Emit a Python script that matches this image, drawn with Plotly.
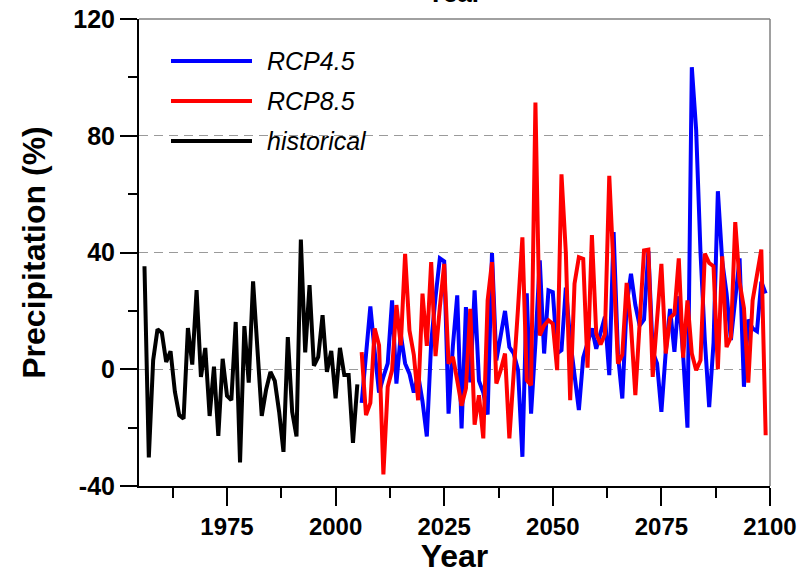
import plotly.graph_objects as go

# ---------------- data ----------------
hist_years = list(range(1956, 2006))
hist_vals = [35.3, -30.2, 3.1, 13.7, 12.5, 2.5, 6.2, -7.7, -15.7, -16.9,
             14.1, 1.6, 27.1, -2.6, 7.3, -16.0, 0.9, -22.8, 3.6, -9.1,
             -10.6, 16.2, -31.9, 14.8, -4.6, 30.1, 7.0, -16.0, -7.0, -0.9,
             -4.0, -14.6, -28.3, 11.0, -14.6, -23.0, 44.4, 5.8, 28.8, 1.2,
             4.2, 18.5, -0.9, 6.3, -10.0, 7.3, -2.0, -2.0, -25.2, -5.2]

rcp_years = list(range(2006, 2100))
rcp45_vals = [-11.5, 5.0, 21.5, 6.0, -8.0, -2.6, 2.0, 23.6, -4.9, 12.0,
              2.0, -1.5, -8.0, -2.0, -11.0, -23.0, 9.0, 24.7, 38.0, 37.0,
              -15.2, 8.0, 25.3, -20.3, 21.3, -4.5, 27.0, -4.0, -8.0, -15.5,
              39.8, 3.0, 11.0, 20.0, 7.6, 5.4, -0.3, -30.0, 26.0, -15.2,
              9.0, 37.3, 5.4, 27.0, 26.4, 5.4, 6.5,
              28.0, 10.0, -1.0, -14.0, 4.0, 9.0, 14.0, 7.0, 12.0, 18.0,
              -2.0, 47.0, 5.0, -10.0, 22.0, 32.7, 22.0, 15.0, 17.0, 40.5,
              6.0, 2.0, -14.6, 6.0, 20.7, 6.0, 25.0, 5.0, -20.0, 103.5,
              82.0, 40.0, 10.0, -13.0, 9.0, 61.0, 37.0, 26.0, 10.0, 24.0,
              38.0, -6.0, 17.0, 14.0, 13.0, 30.0, 26.0]
rcp85_vals = [5.9, -15.7, -11.5, 14.0, 8.2, -36.0, -6.0, -0.3, 22.0, 8.2,
              39.5, 13.3, 5.0, -10.6, 25.9, 8.0, 36.7, 4.5, 21.3, 36.1,
              1.9, 4.2, -3.8, -12.5, -6.6, 20.7, -19.0, -8.9, -23.7, 23.6,
              36.7, -4.9, -0.3, 5.4, -23.7, -2.6, 21.0, 45.2, -3.8, -5.5,
              91.4, 11.6, 15.0, 16.8, 15.6, -0.3, 66.8,
              40.0, -10.6, 29.3, 38.4, 37.8, 0.5, 46.0, 12.2, 8.5, 12.0,
              66.3, 34.0, 1.9, 5.0, 29.6, 15.0, -8.9, 16.0, 40.7, 41.0,
              -2.6, 17.0, 36.1, 5.4, 17.6, 19.0, 38.0, 4.0, 23.6, 5.4,
              -0.3, 3.1, 39.6, 36.4, 35.3, 0.0, 38.7, 7.6, 11.0, 50.4,
              29.8, 21.0, -4.6, 23.6, 31.6, 41.0, -22.6]

series_names = ["RCP4.5", "RCP8.5", "historical"]
series_colors = ["#0000FF", "#FF0000", "#000000"]

x_tickvals = [1975, 2000, 2025, 2050, 2075, 2100]
y_tickvals = [-40, 0, 40, 80, 120]

FONT = "Liberation Sans, Arial, sans-serif"

fig = go.Figure()
fig.add_trace(go.Scatter(x=hist_years, y=hist_vals, mode="lines",
                         name=series_names[2],
                         line=dict(color=series_colors[2], width=4)))
fig.add_trace(go.Scatter(x=rcp_years, y=rcp45_vals, mode="lines",
                         name=series_names[0],
                         line=dict(color=series_colors[0], width=4)))
fig.add_trace(go.Scatter(x=rcp_years, y=rcp85_vals, mode="lines",
                         name=series_names[1],
                         line=dict(color=series_colors[1], width=4)))

L, R, T, B = 139, 31, 19, 88
W, H = 801, 574
pw, ph = W - L - R, H - T - B

def px2paper_x(px):
    return (px - L) / pw

def px2paper_y(py):
    return (H - B - py) / ph

shapes = []
annotations = []
# custom legend (long line samples)
leg_y = [61, 101, 141]
for name, col, py in zip(series_names, series_colors, leg_y):
    shapes.append(dict(type="line", xref="paper", yref="paper",
                       x0=px2paper_x(171), x1=px2paper_x(252),
                       y0=px2paper_y(py), y1=px2paper_y(py),
                       line=dict(color=col, width=4)))
    annotations.append(dict(xref="paper", yref="paper",
                            x=px2paper_x(265), y=px2paper_y(py),
                            xanchor="left", yanchor="middle", showarrow=False,
                            text="<i>%s</i>" % name,
                            font=dict(family=FONT, size=25, color="black")))
# gray frame on top and right
shapes.append(dict(type="line", xref="paper", yref="paper", x0=0, x1=1, y0=1, y1=1,
                   line=dict(color="#808080", width=1.5)))
shapes.append(dict(type="line", xref="paper", yref="paper", x0=1, x1=1, y0=0, y1=1,
                   line=dict(color="#808080", width=1.5)))

# panel title (cut off at top, as in the reference)
annotations.append(dict(xref="paper", yref="paper", x=0.5, y=px2paper_y(10),
                        xanchor="center", yanchor="bottom", showarrow=False,
                        text="<b>Year</b>",
                        font=dict(family=FONT, size=26, color="black")))

fig.update_layout(
    width=W, height=H,
    margin=dict(l=L, r=R, t=T, b=B, pad=0, autoexpand=False),
    paper_bgcolor="white", plot_bgcolor="white",
    showlegend=False,
    shapes=shapes, annotations=annotations,
    font=dict(family=FONT, color="black"),
)
fig.update_xaxes(
    range=[1954.74, 2100], tickmode="array", tickvals=x_tickvals,
    ticktext=["<b>%d</b>" % v for v in x_tickvals],
    ticks="outside", ticklen=18, tickwidth=1.5, tickcolor="black",
    minor=dict(ticks="outside", ticklen=10, tickwidth=1.5, tickcolor="black",
               tick0=1962.5, dtick=25, showgrid=False),
    showline=True, linecolor="black", linewidth=2,
    showgrid=False, zeroline=False, automargin=False,
    tickfont=dict(family=FONT, size=24, color="black"),
    title=dict(text="<b>Year</b>", font=dict(family=FONT, size=32, color="black"),
               standoff=6),
)
fig.update_yaxes(
    range=[-40, 120], tickmode="array", tickvals=y_tickvals,
    ticktext=["<b>%d</b>" % v for v in y_tickvals],
    ticks="outside", ticklen=17, tickwidth=1.5, tickcolor="black",
    minor=dict(ticks="outside", ticklen=9, tickwidth=1.5, tickcolor="black",
               tick0=-20, dtick=40, showgrid=False),
    showline=True, linecolor="black", linewidth=2,
    showgrid=True, gridcolor="#9a9a9a", gridwidth=1, griddash="9px,6px",
    zeroline=False, automargin=False,
    tickfont=dict(family=FONT, size=25, color="black"),
    title=dict(text="<b>Precipitation (%)</b>",
               font=dict(family=FONT, size=32, color="black"), standoff=18),
)

fig.write_html("out.html")
